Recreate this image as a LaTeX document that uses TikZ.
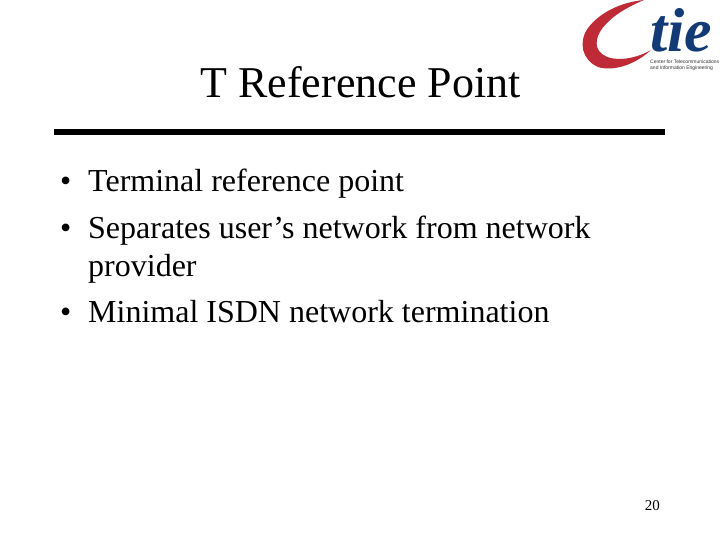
\documentclass[tikz,border=0pt]{standalone}
\usepackage{fontspec}
\setmainfont{Liberation Serif}
\newfontfamily\smallsans{Liberation Sans}
\definecolor{tiered}{RGB}{190,42,54}
\definecolor{tieblue}{RGB}{18,58,118}
\tikzset{
  bodytext/.style={anchor=base west,inner sep=0pt,font=\fontsize{32}{32}\selectfont,text=black},
  bullettext/.style={anchor=base west,inner sep=0pt,font=\fontsize{32}{32}\selectfont,text=black},
  logosmall/.style={anchor=north west,inner sep=0pt,align=left,font=\smallsans\fontsize{5}{6}\selectfont,text=black!80}
}
\begin{document}
\begin{tikzpicture}[x=1pt,y=-1pt]
\useasboundingbox (0,0) rectangle (720,540);
\fill[white] (0,0) rectangle (720,540);
\node[anchor=base,inner sep=0pt,font=\fontsize{44}{44}\selectfont] (title) at (360.5,98) {T Reference Point};
\coordinate (ruleL) at (54,132);
\coordinate (ruleR) at (665,132);
\draw[line width=6pt] (ruleL) -- (ruleR);
\node[bullettext] (b1) at (60,192) {•};
\node[bodytext] (t1) at (88,192) {Terminal reference point};
\node[bullettext] (b2) at (60,238) {•};
\node[bodytext] (t2) at (88,238) {Separates user’s network from network};
\node[bodytext] (t2b) at (88,276) {provider};
\node[bullettext] (b3) at (60,322) {•};
\node[bodytext] (t3) at (88,322) {Minimal ISDN network termination};
\node[anchor=base east,inner sep=0pt,font=\fontsize{15}{15}\selectfont] (pg) at (660,510) {20};
% logo swoosh
\fill[tiered] (644,0) .. controls (622,2) and (600,12) .. (588,28)
  .. controls (578,42) and (582,60) .. (598,67)
  .. controls (614,72) and (636,64) .. (651,50)
  .. controls (634,60) and (612,62) .. (602,54)
  .. controls (593,47) and (596,34) .. (606,24)
  .. controls (616,13) and (632,5) .. (644,0) -- cycle;
\node[anchor=base west,inner sep=0pt,text=tieblue,font=\fontsize{62}{62}\selectfont\itshape\bfseries] (logo) at (650,52) {tie};
\node[logosmall] (l1) at (650,59.5) {Center for Telecommunications\\and Information Engineering};
\end{tikzpicture}
\end{document}
